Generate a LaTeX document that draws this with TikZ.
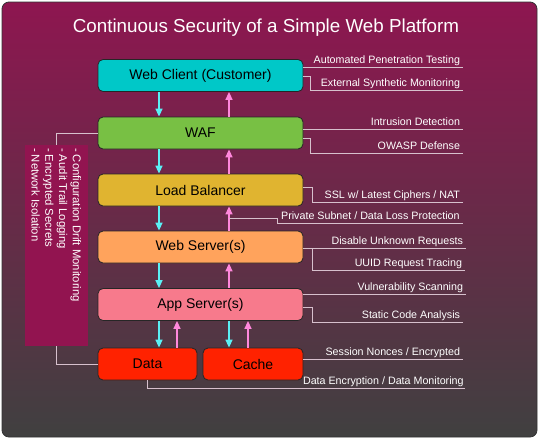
\documentclass[tikz,border=0pt]{standalone}
\usepackage{xcolor}
\usepackage{fontspec}
\setmainfont{Liberation Sans}
\usetikzlibrary{arrows.meta}

\definecolor{bgtop}{RGB}{142,22,80}
\definecolor{bgbot}{RGB}{64,64,64}
\definecolor{sidecol}{RGB}{146,20,80}
\definecolor{clientcol}{RGB}{0,200,200}
\definecolor{wafcol}{RGB}{120,192,68}
\definecolor{lbcol}{RGB}{224,180,48}
\definecolor{webcol}{RGB}{255,163,92}
\definecolor{appcol}{RGB}{247,122,140}
\definecolor{storecol}{RGB}{255,34,0}
\definecolor{reqcol}{RGB}{90,240,245}
\definecolor{respcol}{RGB}{255,136,220}
\definecolor{notecol}{RGB}{215,192,205}

\begin{document}
\begin{tikzpicture}[x=1pt, y=-1pt,
  layer/.style={draw=black!85, line width=0.8pt, rounded corners=5pt, minimum width=205pt, minimum height=32pt, inner sep=0pt, font=\fontsize{14}{16}\selectfont},
  reqarrow/.style={draw=reqcol, line width=1.5pt, -{Triangle[width=7pt,length=8pt]}},
  resparrow/.style={draw=respcol, line width=1.5pt, -{Triangle[width=7pt,length=8pt]}},
  noteline/.style={draw=notecol, line width=0.8pt},
  notetext/.style={anchor=base east, yshift=3.5pt, xshift=-3pt, inner sep=0pt, text=white, font=\fontsize{10.7}{12}\selectfont}]
  \useasboundingbox (0,0) rectangle (540,440);
  \shade[top color=bgtop, bottom color=bgbot, draw=black!80, line width=0.8pt, rounded corners=7pt] (2,2) rectangle (537,437);
  \node[anchor=base, text=white, font=\fontsize{18.8}{20}\selectfont] (title) at (266,32) {Continuous Security of a Simple Web Platform};

  \node[fill=sidecol, minimum width=63pt, minimum height=201pt, inner sep=0pt] (sideinfo) at (56.5,245.5) {};
  \node[anchor=north west, rotate=-90, inner sep=0pt, align=left, text=white, font=\fontsize{11.3}{13.7}\selectfont] (sidetext) at ([xshift=-7pt,yshift=-3pt]sideinfo.north east) {- Configuration Drift Monitoring\\- Audit Trail Logging\\- Encrypted Secrets\\- Network Isolation};

  \node[layer, fill=clientcol] (client) at (200.5,75.5) {Web Client (Customer)};
  \node[layer, fill=wafcol] (waf) at (200.5,133) {WAF};
  \node[layer, fill=lbcol] (lb) at (200.5,190) {Load Balancer};
  \node[layer, fill=webcol] (web) at (200.5,247) {Web Server(s)};
  \node[layer, fill=appcol] (app) at (200.5,304.5) {App Server(s)};
  \node[layer, fill=storecol, minimum width=99pt] (data) at (147.5,364) {Data};
  \node[layer, fill=storecol, minimum width=100pt] (cache) at (253,364) {Cache};

  \coordinate (reqx) at (159,0);
  \coordinate (respx) at (229,0);
  \coordinate (dataup) at (177,0);
  \coordinate (cacheup) at (248,0);
  \foreach \a/\b in {client/waf, waf/lb, lb/web, web/app} {
    \draw[reqarrow] (\a.south -| reqx) -- (\b.north -| reqx);
    \draw[resparrow] (\b.north -| respx) -- (\a.south -| respx);
  }
  \draw[reqarrow] (app.south -| reqx) -- (data.north -| reqx);
  \draw[resparrow] (data.north -| dataup) -- (app.south -| dataup);
  \draw[reqarrow] (app.south -| respx) -- (cache.north -| respx);
  \draw[resparrow] (cache.north -| cacheup) -- (app.south -| cacheup);

  \draw[noteline] (waf.west) -| (sideinfo.north);
  \draw[noteline] (data.west) -| (sideinfo.south);

  \draw[noteline] ([yshift=8.5pt]client.east) -- ++(160,0) node[notetext] {Automated Penetration Testing};
  \draw[noteline] ([yshift=-0.5pt]client.east) -- ++(7,0) |- ++(153,14) node[notetext] {External Synthetic Monitoring};
  \draw[noteline] ([yshift=4pt]waf.east) -- ++(160,0) node[notetext] {Intrusion Detection};
  \draw[noteline] ([yshift=-5pt]waf.east) -- ++(7,0) |- ++(153,15) node[notetext] {OWASP Defense};
  \draw[noteline] ([yshift=3pt]lb.east) -- ++(9,0) |- ++(151,15) node[notetext] {SSL w/ Latest Ciphers / NAT};
  \coordinate (dlp) at (229,218);
  \draw[noteline] (dlp) -- ++(48,0) |- ++(186,5) node[notetext] {Private Subnet / Data Loss Protection};
  \draw[noteline] ([yshift=-1pt]web.east) -- ++(163,0) node[notetext] {Disable Unknown Requests};
  \draw[noteline] ([yshift=-1pt]web.east) ++(9,0) |- ++(153,22) node[notetext] {UUID Request Tracing};
  \draw[noteline] ([yshift=10.5pt]app.east) -- ++(163,0) node[notetext] {Vulnerability Scanning};
  \draw[noteline] ([yshift=-2.5pt]app.east) -- ++(9,0) |- ++(151,15) node[notetext] {Static Code Analysis};
  \draw[noteline] ([yshift=5pt]cache.east) -- ++(160,0) node[notetext] {Session Nonces / Encrypted};
  \draw[noteline] (data.south) -- ++(0,8) -- ++(317.5,0) node[notetext, xshift=2pt] {Data Encryption / Data Monitoring};
\end{tikzpicture}
\end{document}
